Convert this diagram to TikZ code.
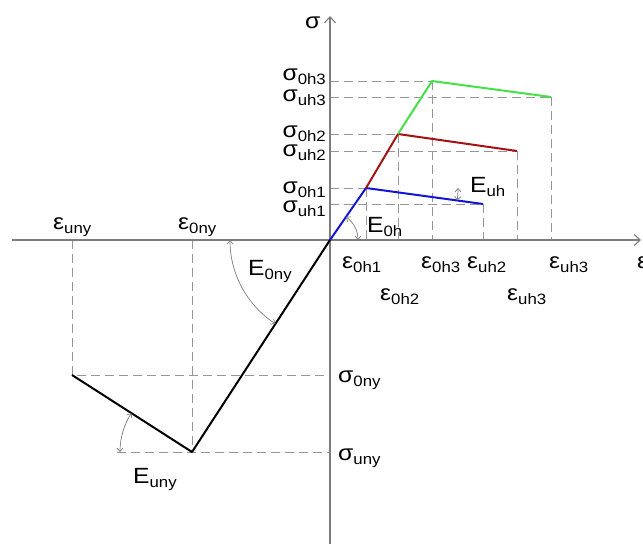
\documentclass[tikz,border=0pt]{standalone}
\usepackage{fontspec}
\setmainfont{Liberation Sans}
\usetikzlibrary{arrows.meta}
\newcommand{\lb}[2]{\scalebox{1.12}[1]{#1\raisebox{-4pt}{\fontsize{15}{16}\selectfont #2}}}
\newcommand{\lone}[1]{\scalebox{1.12}[1]{#1}}
\definecolor{axisgray}{RGB}{125,125,125}
\definecolor{dashgray}{RGB}{150,150,150}
\definecolor{cblue}{RGB}{20,20,215}
\definecolor{cred}{RGB}{165,20,20}
\definecolor{cgreen}{RGB}{70,225,70}
\begin{document}
\begin{tikzpicture}[x=1pt,y=-1pt,
  axisline/.style={draw=axisgray,line width=1.1pt},
  axisarrow/.style={-{Straight Barb[length=6pt,width=11pt]}},
  guide/.style={draw=dashgray,line width=0.9pt,dash pattern=on 9pt off 5pt},
  curve/.style={line width=2pt,line join=round},
  angarc/.style={draw=axisgray,line width=0.7pt,{Straight Barb[length=3.5pt,width=6pt]}-{Straight Barb[length=3.5pt,width=6pt]}},
  lbl/.style={inner sep=0pt,font=\fontsize{22}{26}\selectfont}]
\useasboundingbox (0,0) rectangle (643,544);
% points
\coordinate (O) at (330,240);
\coordinate (XL) at (12,240);
\coordinate (XR) at (641,240);
\coordinate (YB) at (330,544);
\coordinate (YT) at (330,16);
\coordinate (P1) at (366,188);
\coordinate (U1) at (483,204);
\coordinate (P2) at (398,134);
\coordinate (U2) at (517,151);
\coordinate (P3) at (432,81);
\coordinate (U3) at (551,97);
\coordinate (N0) at (192,452);
\coordinate (NU) at (72,375);
\coordinate (NL) at (117,452);
% guides
\foreach \p in {P1,U1,P2,U2,P3,U3}{
  \draw[guide] (\p -| O) -- (\p);
  \draw[guide] (\p) -- (\p |- O);
}
\draw[guide] (NU |- O) -- (NU) -- (NU -| O);
\draw[guide] (N0 |- O) -- (N0);
\draw[guide] (NL) -- (N0 -| O);
% axes
\draw[axisline,axisarrow] (XL) -- (XR);
\draw[axisline,axisarrow] (YB) -- (YT);
% curves
\draw[curve,cblue] (O) -- (P1) -- (U1);
\draw[curve,cred] (P1) -- (P2) -- (U2);
\draw[curve,cgreen] (P2) -- (P3) -- (U3);
\draw[curve,black] (O) -- (N0) -- (NU);
% angle arcs
\draw[angarc] ([shift={(0:28)}]O) arc[start angle=0,end angle=-55.3,radius=28];
\draw[angarc] ([shift={(0:92)}]P1) arc[start angle=0,end angle=7.8,radius=92];
\draw[angarc] ([shift={(180:100)}]O) arc[start angle=180,end angle=123.1,radius=100];
\draw[angarc] ([shift={(180:72)}]N0) arc[start angle=180,end angle=212.7,radius=72];
% labels
\node[lbl,anchor=base west] (lsig) at (305,28) {\lone{σ}};
\node[lbl,anchor=base west] (leps) at (637,268) {\lone{ε}};
\node[lbl,anchor=base east] (ls0h3) at (326,80) {\lb{σ}{0h3}};
\node[lbl,anchor=base east] (lsuh3) at (326,101) {\lb{σ}{uh3}};
\node[lbl,anchor=base east] (ls0h2) at (326,137) {\lb{σ}{0h2}};
\node[lbl,anchor=base east] (lsuh2) at (326,156) {\lb{σ}{uh2}};
\node[lbl,anchor=base east] (ls0h1) at (326,193) {\lb{σ}{0h1}};
\node[lbl,anchor=base east] (lsuh1) at (326,212) {\lb{σ}{uh1}};
\node[lbl,anchor=base west] (le0h1) at (342,268) {\lb{ε}{0h1}};
\node[lbl,anchor=base west] (le0h3) at (421,268) {\lb{ε}{0h3}};
\node[lbl,anchor=base west] (leuh2) at (467,268) {\lb{ε}{uh2}};
\node[lbl,anchor=base west] (leuh3) at (549,268) {\lb{ε}{uh3}};
\node[lbl,anchor=base west] (le0h2) at (380,300) {\lb{ε}{0h2}};
\node[lbl,anchor=base west] (leuh3b) at (507,300) {\lb{ε}{uh3}};
\node[lbl,anchor=base west] (leuny) at (53,229) {\lb{ε}{uny}};
\node[lbl,anchor=base west] (le0ny) at (178,229) {\lb{ε}{0ny}};
\node[lbl,anchor=base west] (lE0ny) at (248,275) {\lb{E}{0ny}};
\node[lbl,anchor=base west] (lEuny) at (133,483) {\lb{E}{uny}};
\node[lbl,anchor=base west] (ls0ny) at (338,382) {\lb{σ}{0ny}};
\node[lbl,anchor=base west] (lsuny) at (338,460) {\lb{σ}{uny}};
\node[lbl,anchor=base west] (lE0h) at (367,232) {\lb{E}{0h}};
\node[lbl,anchor=base west] (lEuh) at (470,192) {\lb{E}{uh}};
\end{tikzpicture}
\end{document}
